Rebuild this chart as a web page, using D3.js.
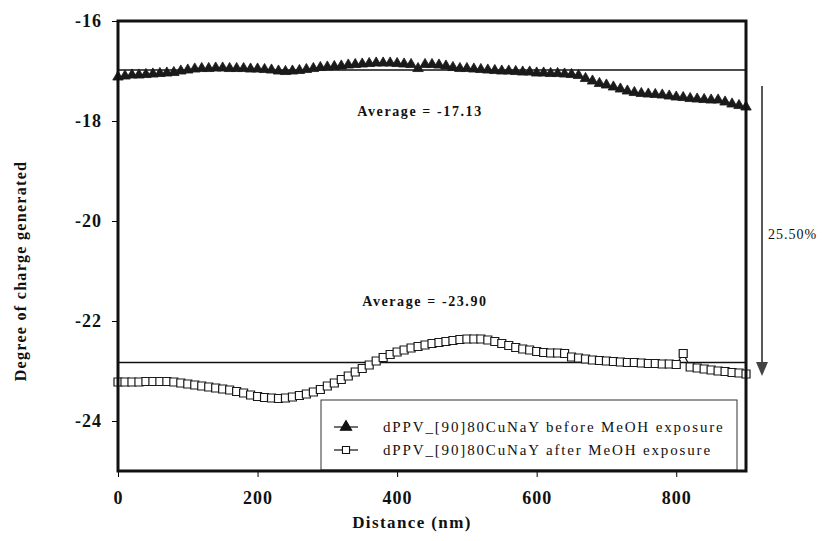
<!DOCTYPE html>
<html>
<head>
<meta charset="utf-8">
<script src="https://d3js.org/d3.v7.min.js"></script>
<style>
  body { margin: 0; background: #fff; }
  svg text { font-family: "Liberation Serif", "Times New Roman", "DejaVu Serif", serif !important; }
</style>
</head>
<body>
<div id="chart"></div>
<script>
// Distance (nm), one point every 10 nm
const distance = d3.range(0, 901, 10);

// Degree of charge generated, before MeOH exposure (triangles)
const before = [
  -17.12, -17.10, -17.08, -17.08, -17.07, -17.06, -17.05, -17.04, -17.03, -17.00,
  -16.98, -16.96, -16.95, -16.95, -16.94, -16.94, -16.95, -16.95, -16.95, -16.96,
  -16.96, -16.97, -16.98, -17.00, -17.01, -17.00, -16.99, -16.97, -16.95, -16.93,
  -16.92, -16.91, -16.90, -16.88, -16.87, -16.86, -16.85, -16.84, -16.84, -16.84,
  -16.85, -16.86, -16.87, -16.95, -16.87, -16.87, -16.88, -16.90, -16.93, -16.95,
  -16.95, -16.96, -16.97, -16.98, -16.99, -17.00, -17.00, -17.01, -17.02, -17.02,
  -17.04, -17.04, -17.05, -17.05, -17.06, -17.07, -17.09, -17.15, -17.20, -17.25,
  -17.28, -17.32, -17.36, -17.40, -17.43, -17.45, -17.46, -17.47, -17.48, -17.50,
  -17.52, -17.53, -17.55, -17.56, -17.57, -17.58, -17.58, -17.62, -17.66, -17.69,
  -17.72
];

// Degree of charge generated, after MeOH exposure (open squares)
const after = [
  -23.22, -23.22, -23.22, -23.22, -23.21, -23.21, -23.21, -23.21, -23.22, -23.24,
  -23.26, -23.28, -23.30, -23.32, -23.34, -23.36, -23.38, -23.41, -23.44, -23.48,
  -23.51, -23.53, -23.54, -23.55, -23.54, -23.52, -23.49, -23.46, -23.42, -23.37,
  -23.30, -23.24, -23.17, -23.10, -23.02, -22.95, -22.88, -22.80, -22.73, -22.67,
  -22.62, -22.58, -22.54, -22.51, -22.48, -22.45, -22.43, -22.41, -22.39, -22.37,
  -22.36, -22.36, -22.36, -22.38, -22.41, -22.45, -22.49, -22.53, -22.56, -22.58,
  -22.61, -22.63, -22.64, -22.64, -22.65, -22.72, -22.74, -22.76, -22.78, -22.79,
  -22.80, -22.81, -22.82, -22.83, -22.83, -22.84, -22.85, -22.85, -22.86, -22.86,
  -22.87, -22.65, -22.92, -22.94, -22.96, -22.98, -23.00, -23.01, -23.03, -23.04,
  -23.06
];

// average reference lines as drawn
const avgLines = [-16.98, -22.83];
const avgLabels = ['Average = -17.13', 'Average = -23.90'];
const avgLabelAt = [{ x: 343, y: -17.9 }, { x: 350, y: -21.7 }];

const xTicks = [0, 200, 400, 600, 800];
const yTicks = [-16, -18, -20, -22, -24];
const seriesNames = [
  'dPPV_[90]80CuNaY before MeOH exposure',
  'dPPV_[90]80CuNaY after MeOH exposure'
];

const width = 827, height = 541;
const margin = { top: 21, right: 81, bottom: 70, left: 118 };
const innerW = width - margin.left - margin.right;
const innerH = height - margin.top - margin.bottom;

const svg = d3.select('#chart').append('svg')
  .attr('width', width)
  .attr('height', height);

const g = svg.append('g').attr('transform', `translate(${margin.left},${margin.top})`);

const x = d3.scaleLinear().domain([0, 900]).range([0, innerW]);
const y = d3.scaleLinear().domain([-25, -16]).range([innerH, 0]);

// Axes
const yAxis = g.append('g')
  .call(d3.axisLeft(y).tickValues(yTicks).tickSize(6).tickPadding(10).tickFormat(d => String(d)));
yAxis.select('.domain').remove();
yAxis.selectAll('text')
  .style('font-size', '18px').style('font-weight', 'bold')
  .style('letter-spacing', '1px').attr('fill', '#111');

const xAxis = g.append('g')
  .attr('transform', `translate(0,${innerH})`)
  .call(d3.axisBottom(x).tickValues(xTicks).tickSize(6).tickPadding(14));
xAxis.select('.domain').remove();
xAxis.selectAll('text')
  .style('font-size', '18px').style('font-weight', 'bold')
  .style('letter-spacing', '1px').attr('fill', '#111');

// Axis titles
svg.append('text')
  .attr('transform', `translate(26, ${margin.top + innerH / 2 + 25}) rotate(-90)`)
  .attr('text-anchor', 'middle')
  .style('font-size', '16px').style('font-weight', 'bold').style('letter-spacing', '1.3px')
  .attr('fill', '#111')
  .text('Degree of charge generated');

svg.append('text')
  .attr('x', 412).attr('y', 528)
  .attr('text-anchor', 'middle')
  .style('font-size', '17px').style('font-weight', 'bold').style('letter-spacing', '1.4px')
  .attr('fill', '#111')
  .text('Distance (nm)');

// Average lines
g.selectAll('.avg')
  .data(avgLines)
  .enter()
  .append('line')
  .attr('x1', 0).attr('x2', innerW)
  .attr('y1', d => y(d)).attr('y2', d => y(d))
  .attr('stroke', '#111').attr('stroke-width', 1.6);

g.selectAll('.avg-label')
  .data(avgLabels)
  .enter()
  .append('text')
  .attr('x', (d, i) => x(avgLabelAt[i].x))
  .attr('y', (d, i) => y(avgLabelAt[i].y))
  .style('font-size', '14px').style('font-weight', 'bold').style('letter-spacing', '1.6px')
  .attr('fill', '#111')
  .text(d => d);

// Series
const dataBefore = distance.map((d, i) => ({ x: d, y: before[i] }));
const dataAfter = distance.map((d, i) => ({ x: d, y: after[i] }));
const line = d3.line().x(d => x(d.x)).y(d => y(d.y));

g.append('path').datum(dataBefore).attr('d', line)
  .attr('fill', 'none').attr('stroke', '#111').attr('stroke-width', 1.2);
g.append('path').datum(dataAfter).attr('d', line)
  .attr('fill', 'none').attr('stroke', '#111').attr('stroke-width', 1.2);

const tri = d3.symbol().type(d3.symbolTriangle).size(48);
const sq = d3.symbol().type(d3.symbolSquare).size(64);

g.selectAll('.tri')
  .data(dataBefore)
  .enter()
  .append('path')
  .attr('d', tri)
  .attr('transform', d => `translate(${x(d.x)},${y(d.y)})`)
  .attr('fill', '#1a1a1a').attr('stroke', '#1a1a1a').attr('stroke-width', 0.8);

g.selectAll('.sq')
  .data(dataAfter)
  .enter()
  .append('path')
  .attr('d', sq)
  .attr('transform', d => `translate(${x(d.x)},${y(d.y)})`)
  .attr('fill', '#fff').attr('stroke', '#1a1a1a').attr('stroke-width', 1.2);

// Legend
const legend = g.append('g').attr('transform', `translate(${321 - margin.left},${400 - margin.top})`);
legend.append('rect')
  .attr('width', 416).attr('height', 70)
  .attr('fill', '#fff').attr('stroke', '#333').attr('stroke-width', 1);

const rows = legend.selectAll('.row')
  .data(seriesNames)
  .enter()
  .append('g')
  .attr('transform', (d, i) => `translate(0, ${27 + i * 23})`);

rows.append('line')
  .attr('x1', 13).attr('x2', 37)
  .attr('stroke', '#111').attr('stroke-width', 1.2);
rows.append('path')
  .attr('d', (d, i) => (i === 0 ? d3.symbol().type(d3.symbolTriangle).size(55) : d3.symbol().type(d3.symbolSquare).size(50))())
  .attr('transform', 'translate(25,0)')
  .attr('fill', (d, i) => i === 0 ? '#111' : '#fff')
  .attr('stroke', '#111').attr('stroke-width', 1.1);
rows.append('text')
  .attr('x', 62).attr('dy', '0.35em')
  .style('font-size', '15px').style('letter-spacing', '1.85px')
  .attr('fill', '#111')
  .text(d => d);

// Plot frame
g.append('rect')
  .attr('width', innerW).attr('height', innerH)
  .attr('fill', 'none').attr('stroke', '#111').attr('stroke-width', 3);

// Change annotation
const ann = svg.append('g');
ann.append('line')
  .attr('x1', 762).attr('x2', 762)
  .attr('y1', 86).attr('y2', 366)
  .attr('stroke', '#111').attr('stroke-width', 1.4);
ann.append('path')
  .attr('d', 'M756,362 L768,362 L762,376 Z')
  .attr('fill', '#444');
ann.append('text')
  .attr('x', 768).attr('y', 239)
  .style('font-size', '14px').style('letter-spacing', '1px')
  .attr('fill', '#111')
  .text('25.50%');
</script>
</body>
</html>
